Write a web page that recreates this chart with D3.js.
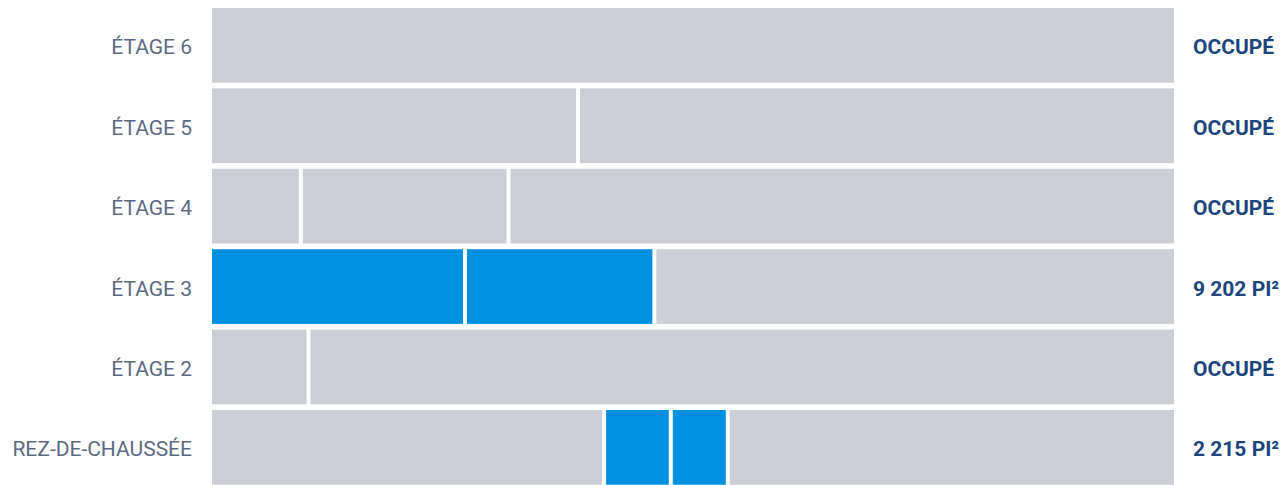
<!DOCTYPE html>
<html>
<head>
<meta charset="utf-8">
<script src="https://cdn.jsdelivr.net/npm/d3@7"></script>
<style>
  html, body { margin: 0; padding: 0; background: #ffffff; }
  svg { display: block; }
</style>
</head>
<body>
<svg id="chart" width="1287" height="485"></svg>
<script>
// Floors, top to bottom
const floors = ["ÉTAGE 6", "ÉTAGE 5", "ÉTAGE 4", "ÉTAGE 3", "ÉTAGE 2", "REZ-DE-CHAUSSÉE"];
// Segment widths per floor (share of floor, %)
const segmentSizes = [
  [100],
  [38.1, 61.9],
  [9.4, 21.5, 69.1],
  [26.4, 19.6, 54.0],
  [10.2, 89.8],
  [40.8, 6.9, 5.9, 46.4]
];
// Segment availability (true = available / blue)
const segmentAvailable = [
  [false],
  [false, false],
  [false, false, false],
  [true, true, false],
  [false, false],
  [false, true, true, false]
];
// Right-hand status labels
const statusLabels = ["OCCUPÉ", "OCCUPÉ", "OCCUPÉ", "9 202 PI²", "OCCUPÉ", "2 215 PI²"];

const svg = d3.select("#chart");
const x = d3.scaleLinear().domain([0, 100]).range([210, 1176]);
const y = d3.scaleBand().domain(floors).range([8, 484.7]).paddingInner(0.071).paddingOuter(0);

const rows = svg.selectAll("g.row")
  .data(floors.map((f, i) => {
    let acc = 0;
    const segs = segmentSizes[i].map((s, j) => {
      const seg = { x0: acc, x1: acc + s, avail: segmentAvailable[i][j] };
      acc += s;
      return seg;
    });
    return { floor: f, segs: segs, status: statusLabels[i] };
  }))
  .join("g")
  .attr("class", "row")
  .attr("transform", d => `translate(0,${y(d.floor)})`);

rows.selectAll("rect")
  .data(d => d.segs)
  .join("rect")
  .attr("x", d => x(d.x0) + 2)
  .attr("width", d => x(d.x1) - x(d.x0) - 4)
  .attr("y", 0)
  .attr("height", y.bandwidth())
  .attr("fill", d => d.avail ? "#0190e0" : "#cbced6");

rows.append("text")
  .attr("x", 192)
  .attr("y", y.bandwidth() / 2 + 9)
  .attr("text-anchor", "end")
  .attr("font-family", "Roboto, sans-serif")
  .attr("font-size", 21)
  .attr("fill", "#5b6a84")
  .text(d => d.floor);

rows.append("text")
  .attr("x", 1193)
  .attr("y", y.bandwidth() / 2 + 9)
  .attr("text-anchor", "start")
  .attr("font-family", "Roboto, sans-serif")
  .attr("font-weight", "bold")
  .attr("font-size", 21)
  .attr("fill", "#1c4580")
  .text(d => d.status);
</script>
</body>
</html>
